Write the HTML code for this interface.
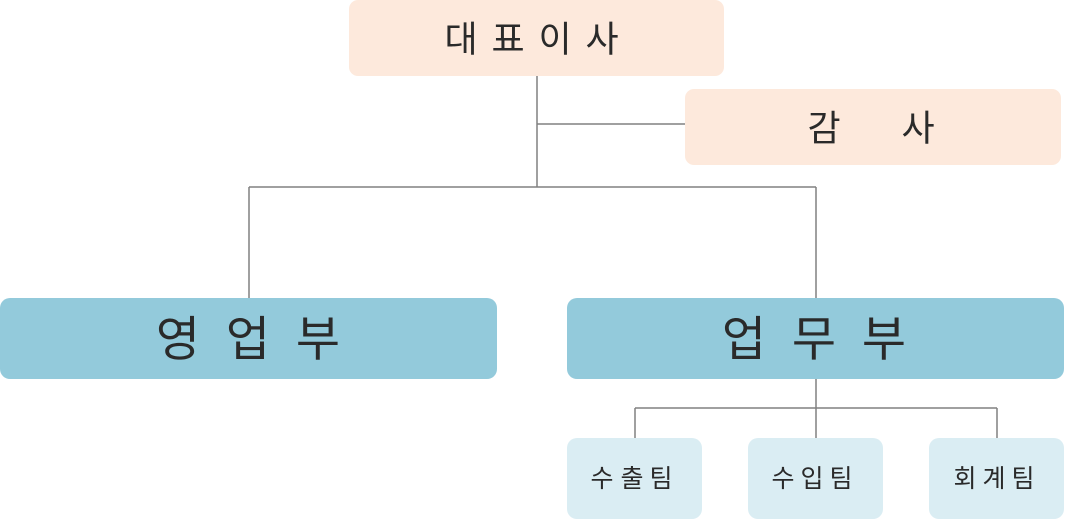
<!DOCTYPE html>
<html><head><meta charset="utf-8"><style>
html,body{margin:0;padding:0;background:#fff;width:1065px;height:520px;overflow:hidden}
svg text{font-family:"Liberation Sans","Noto Sans CJK KR","NanumGothic",sans-serif;fill:#2a2a2a}
</style></head><body>
<svg width="1065" height="520" xmlns="http://www.w3.org/2000/svg">
<g stroke="#808080" stroke-width="1.5" fill="none">
<line x1="537" y1="76" x2="537" y2="187"/>
<line x1="537" y1="124" x2="686" y2="124"/>
<line x1="249" y1="187" x2="816" y2="187"/>
<line x1="249" y1="187" x2="249" y2="298"/>
<line x1="816" y1="187" x2="816" y2="298"/>
<line x1="816" y1="379" x2="816" y2="438"/>
<line x1="635" y1="408" x2="997" y2="408"/>
<line x1="635" y1="408" x2="635" y2="438"/>
<line x1="997" y1="408" x2="997" y2="438"/>
</g>
<rect x="349" y="0" width="375" height="76" rx="9" fill="#fde9dc"/>
<rect x="685" y="89" width="376" height="76" rx="9" fill="#fde9dc"/>
<rect x="0" y="298" width="497" height="81" rx="10" fill="#93cadb"/>
<rect x="567" y="298" width="497" height="81" rx="10" fill="#93cadb"/>
<rect x="567" y="438" width="135" height="81" rx="10" fill="#daedf3"/>
<rect x="748" y="438" width="135" height="81" rx="10" fill="#daedf3"/>
<rect x="929" y="438" width="135" height="81" rx="10" fill="#daedf3"/>
<g text-anchor="middle" dominant-baseline="central">
<g font-size="36">
<text x="461" y="39">대</text><text x="508" y="39">표</text><text x="555" y="39">이</text><text x="602" y="39">사</text>
<text x="824" y="128">감</text><text x="918" y="128">사</text>
</g>
<g font-size="48">
<text x="178" y="340">영</text><text x="248" y="340">업</text><text x="318" y="340">부</text>
<text x="744" y="340">업</text><text x="814" y="340">무</text><text x="884" y="340">부</text>
</g>
<g font-size="25">
<text x="602" y="479">수</text><text x="632" y="479">출</text><text x="661" y="479">팀</text>
<text x="783" y="479">수</text><text x="812" y="479">입</text><text x="841" y="479">팀</text>
<text x="965" y="479">회</text><text x="994" y="479">계</text><text x="1023" y="479">팀</text>
</g>
</g>
</svg>
</body></html>
